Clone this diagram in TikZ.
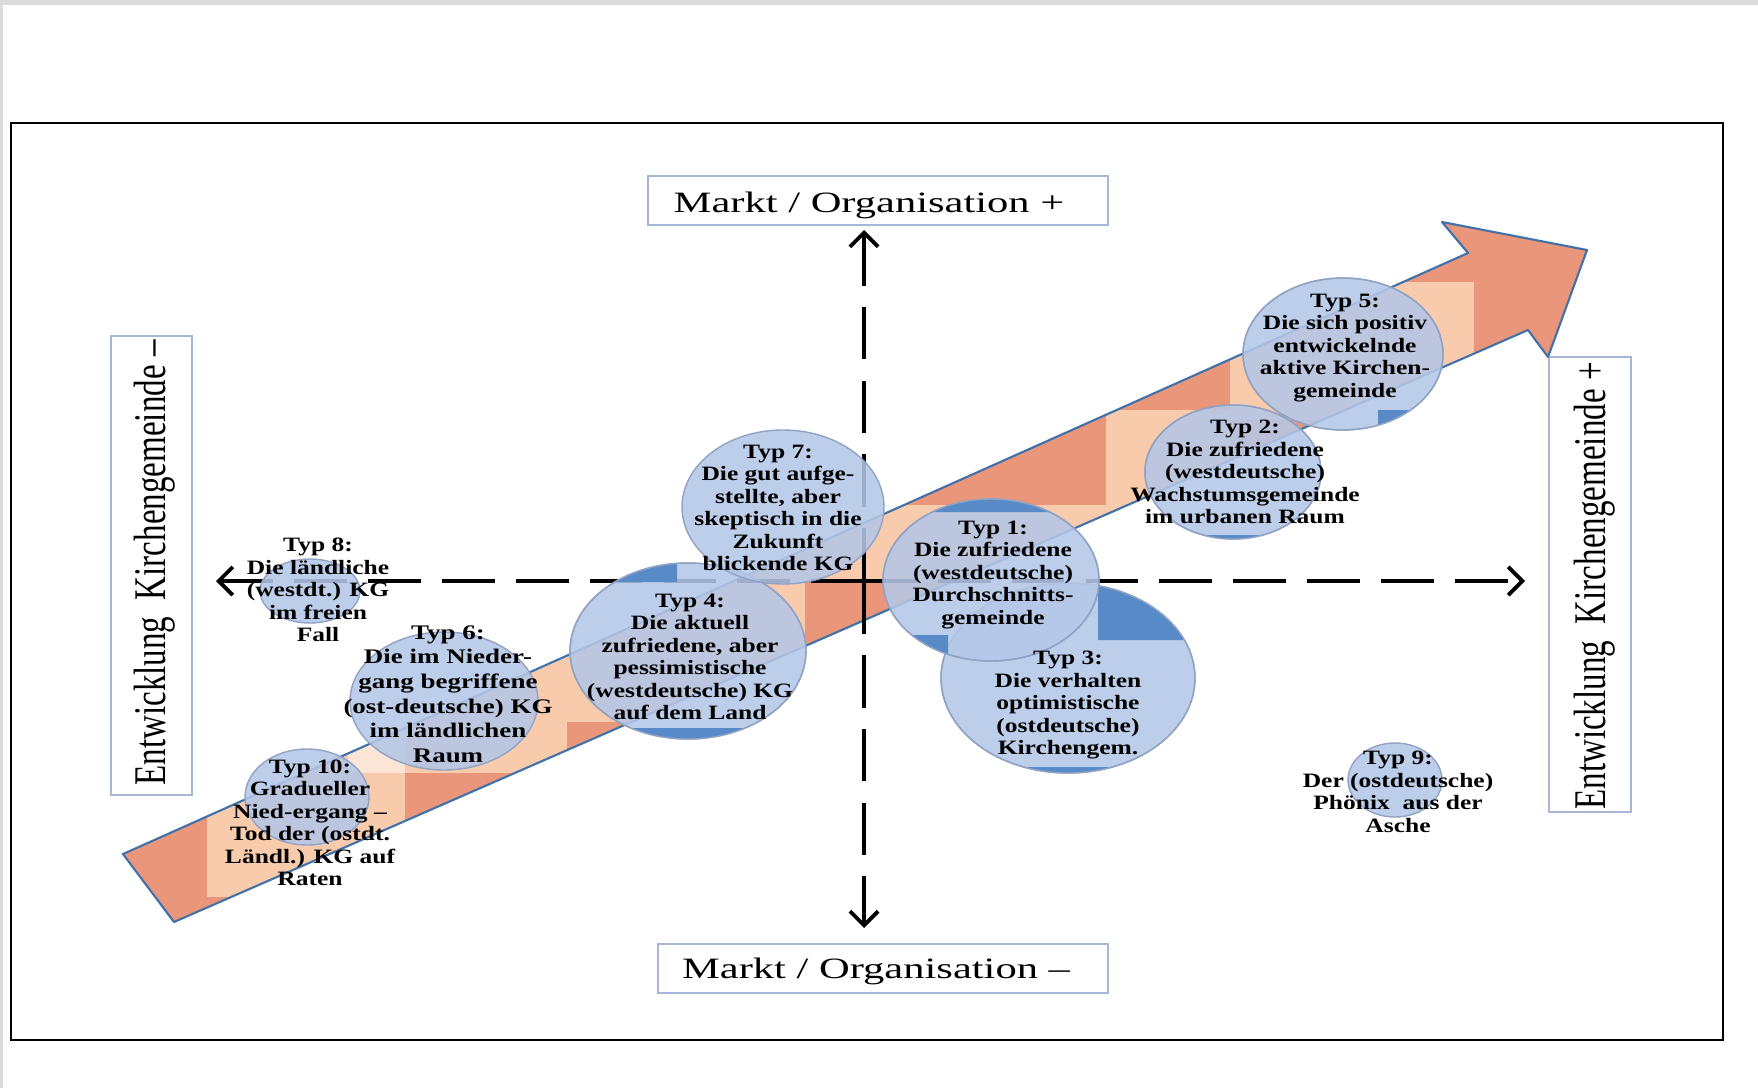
\documentclass[tikz,border=0pt]{standalone}
\usepackage{fontspec}
\setmainfont{Liberation Serif}
\usetikzlibrary{arrows.meta}

\definecolor{rust}{RGB}{233,150,122}
\definecolor{peach}{RGB}{248,203,173}
\definecolor{paleorange}{RGB}{251,229,214}
\definecolor{arrowline}{RGB}{65,113,170}
\definecolor{bubblue}{RGB}{180,199,231}
\definecolor{deepblue}{RGB}{88,138,200}
\definecolor{bubline}{RGB}{145,163,196}
\definecolor{boxline}{RGB}{166,182,214}

\begin{document}
\begin{tikzpicture}[x=0.01cm, y=-0.01cm,
  box/.style={draw=boxline, line width=0.45pt, fill=white},
  axis/.style={line width=1.1pt, dash pattern=on 15pt off 6pt, -{Straight Barb[length=4pt,width=8pt]}},
  bubble/.style={fill=bubblue, fill opacity=0.88, draw=bubline, line width=0.4pt},
  rim/.style={draw=bubline, line width=0.4pt},
  bubtext/.style={font=\fontsize{5.8}{6.4}\selectfont\bfseries, align=center, xscale=1.25, inner sep=0pt},
  axislabel/.style={font=\fontsize{8.4}{10}\selectfont, xscale=1.44, inner sep=0pt},
  sidelabel/.style={font=\fontsize{9.4}{10}\selectfont, xscale=1.37, rotate=90, inner sep=0pt}]

\useasboundingbox (0,0) rectangle (1758,1088);
\fill[black!14] (0,0) rectangle (1758,5);
\fill[black!14] (0,0) rectangle (3,1088);
\draw[line width=0.7pt] (11,123) rectangle (1723,1040);

% label boxes
\draw[box] (648,176) rectangle (1108,225);
\draw[box] (658,944) rectangle (1108,993);
\draw[box] (111,336) rectangle (192,795);
\draw[box] (1549,357) rectangle (1631,812);

\node[axislabel] (orgplus) at (869,205) {Markt / Organisation +};
\node[axislabel] (orgminus) at (876,971) {Markt / Organisation –};
\node[sidelabel] (kgminus) at (155,563) {Entwicklung\ \ Kirchengemeinde –};
\node[sidelabel] (kgplus) at (1595,586) {Entwicklung\ \ Kirchengemeinde +};

% big arrow
\begin{scope}
\clip (123,854) -- (1468,253) -- (1442,222) -- (1587,250) -- (1548,357) -- (1528,330) -- (174,922) -- cycle;
\fill[rust] (100,200) rectangle (1600,940);
\fill[peach] (207,700) rectangle (405,897);
\fill[paleorange] (348,700) rectangle (405,773);
\fill[peach] (405,650) rectangle (567,773);
\fill[peach] (567,540) rectangle (805,722);
\fill[peach] (805,505) rectangle (1106,582);
\fill[peach] (1106,410) rectangle (1230,520);
\fill[peach] (1230,282) rectangle (1474,420);
\end{scope}
\draw[arrowline, line width=0.6pt, line join=round] (123,854) -- (1468,253) -- (1442,222) -- (1587,250) -- (1548,357) -- (1528,330) -- (174,922) -- cycle;

% axes
\coordinate (o) at (864,581);
\coordinate (north) at (864,230);
\coordinate (south) at (864,928);
\coordinate (west) at (216,581);
\coordinate (east) at (1525,581);
\draw[axis] (o) -- (north);
\draw[axis] (o) -- (south);
\draw[axis] (o) -- (west);
\draw[axis] (o) -- (east);

% bubbles
\filldraw[bubble] (310,591) ellipse [x radius=50, y radius=32];
\filldraw[bubble] (444,701) ellipse [x radius=94, y radius=69];
\filldraw[bubble] (307,797) ellipse [x radius=62, y radius=48];

\fill[bubble] (688,651) ellipse [x radius=118, y radius=88];
\begin{scope}
\clip (688,651) ellipse [x radius=118, y radius=88];
\fill[deepblue] (560,540) rectangle (677,582) (560,728) rectangle (820,760);
\end{scope}
\draw[rim] (688,651) ellipse [x radius=118, y radius=88];

\filldraw[bubble] (783,507) ellipse [x radius=101, y radius=77];

\fill[bubble] (1068,678) ellipse [x radius=127, y radius=95];
\begin{scope}
\clip (1068,678) ellipse [x radius=127, y radius=95];
\fill[deepblue] (1098,570) rectangle (1200,640) (930,767) rectangle (1200,790);
\end{scope}
\draw[rim] (1068,678) ellipse [x radius=127, y radius=95];

\fill[bubble] (991,580) ellipse [x radius=108, y radius=81];
\begin{scope}
\clip (991,580) ellipse [x radius=108, y radius=81];
\fill[deepblue] (870,490) rectangle (1110,512) (870,635) rectangle (948,670);
\end{scope}
\draw[rim] (991,580) ellipse [x radius=108, y radius=81];

\fill[bubble] (1343,354) ellipse [x radius=100, y radius=76];
\begin{scope}
\clip (1343,354) ellipse [x radius=100, y radius=76];
\fill[deepblue] (1378,410) rectangle (1450,440);
\end{scope}
\draw[rim] (1343,354) ellipse [x radius=100, y radius=76];

\fill[bubble] (1233,472) ellipse [x radius=88, y radius=67];
\begin{scope}
\clip (1233,472) ellipse [x radius=88, y radius=67];
\fill[deepblue] (1140,535) rectangle (1330,545);
\end{scope}
\draw[rim] (1233,472) ellipse [x radius=88, y radius=67];

\filldraw[bubble] (1395,780) ellipse [x radius=47, y radius=37];

% texts of the types
\node[bubtext] (typ8) at (318,590) {Typ 8:\\Die ländliche\\(westdt.) KG\\im freien\\Fall};
\node[bubtext, font=\fontsize{5.9}{7.0}\selectfont\bfseries, xscale=1.04] (typ6) at (448,694) {Typ 6:\\Die im Nieder-\\gang begriffene\\(ost-deutsche) KG\\im ländlichen\\Raum};
\node[bubtext] (typ10) at (310,823) {Typ 10:\\Gradueller\\Nied-ergang –\\Tod der (ostdt.\\Ländl.) KG auf\\Raten};
\node[bubtext] (typ4) at (690,657) {Typ 4:\\Die aktuell\\zufriedene, aber\\pessimistische\\(westdeutsche) KG\\auf dem Land};
\node[bubtext] (typ7) at (778,508) {Typ 7:\\Die gut aufge-\\stellte, aber\\skeptisch in die\\Zukunft\\blickende KG};
\node[bubtext] (typ1) at (993,575) {Typ 1:\\Die zufriedene\\(westdeutsche)\\Durchschnitts-\\gemeinde};
\node[bubtext] (typ3) at (1068,705) {Typ 3:\\Die verhalten\\optimistische\\(ostdeutsche)\\Kirchengem.};
\node[bubtext] (typ2) at (1245,472) {Typ 2:\\Die zufriedene\\(westdeutsche)\\Wachstumsgemeinde\\im urbanen Raum};
\node[bubtext] (typ5) at (1345,348) {Typ 5:\\Die sich positiv\\entwickelnde\\aktive Kirchen-\\gemeinde};
\node[bubtext] (typ9) at (1398,792) {Typ 9:\\Der (ostdeutsche)\\Phönix\ \ aus der\\Asche};

\end{tikzpicture}
\end{document}
